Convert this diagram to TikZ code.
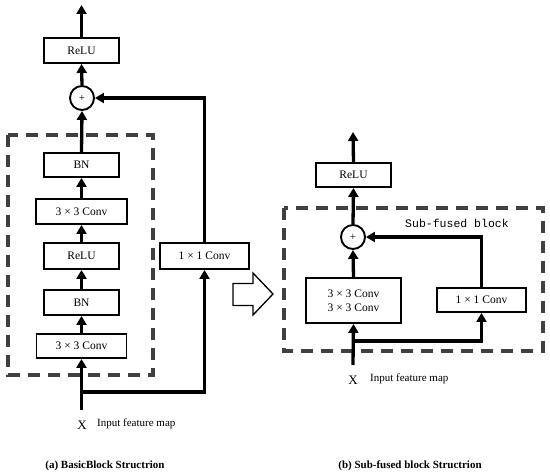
\documentclass[tikz,border=0pt]{standalone}
\usepackage{fontspec}
\setmainfont{Liberation Serif}
\newfontfamily\monof{Liberation Mono}
\usetikzlibrary{arrows.meta}
\begin{document}
\begin{tikzpicture}[x=1pt,y=-1pt,
  blk/.style={draw,line width=1.9pt,fill=white,inner sep=0pt,font=\fontsize{11.5}{13.5}\selectfont,align=center},
  sumnode/.style={draw,circle,line width=1.9pt,minimum size=24pt,inner sep=0pt,font=\fontsize{11}{12}\selectfont},
  conn/.style={line width=3.3pt},
  arr/.style={conn,-{Triangle[length=9pt,width=10pt]}},
  dbox/.style={draw=black!75,line width=3.4pt,dash pattern=on 12pt off 8pt},
  lbl/.style={font=\fontsize{11}{13}\selectfont,inner sep=0pt},
  captxt/.style={font=\fontsize{11}{13}\selectfont\bfseries,inner sep=0pt}]
\useasboundingbox (0,0) rectangle (550,476);
% ---------- (a) ----------
\draw[dbox] (8,135) rectangle (153,375);
\node[blk,minimum width=75pt,minimum height=25pt] (reluA) at (81.5,50.5) {ReLU};
\node[sumnode] (plusA) at (82,98) {+};
\node[blk,minimum width=75pt,minimum height=24pt] (bnA2) at (81.5,165) {BN};
\node[blk,minimum width=91pt,minimum height=25pt] (convA2) at (81.5,211.5) {3 × 3 Conv};
\node[blk,minimum width=75pt,minimum height=26pt] (reluA1) at (81.5,256) {ReLU};
\node[blk,minimum width=75pt,minimum height=25pt] (bnA1) at (81.5,302.5) {BN};
\node[blk,minimum width=90pt,minimum height=24pt] (convA1) at (81.5,346) {3 × 3 Conv};
\node[blk,minimum width=89pt,minimum height=26pt] (conv1A) at (204.5,256) {1 × 1 Conv};
\coordinate (outA) at (81.5,5);
\coordinate (inA) at (81.5,410);
\coordinate (brA) at (81.5,392);
\draw[arr] (reluA.north) -- (outA);
\draw[arr] (plusA.north) -- (reluA.south);
\draw[arr] (bnA2.north) -- (plusA.south);
\draw[arr] (convA2.north) -- (bnA2.south);
\draw[arr] (reluA1.north) -- (convA2.south);
\draw[arr] (bnA1.north) -- (reluA1.south);
\draw[arr] (convA1.north) -- (bnA1.south);
\draw[arr] (inA) -- (convA1.south);
\draw[arr] (brA) -| (conv1A.south);
\draw[arr] (conv1A.north) |- (plusA.east);
\node[font=\fontsize{13}{15}\selectfont,inner sep=0pt] (xA) at (82,425) {X};
\node[lbl,anchor=west] (inlblA) at (97,424) {Input feature map};
\node[captxt] (capA) at (105,466) {(a) BasicBlock Structrion};
% ---------- hollow arrow ----------
\draw[line width=1.3pt,fill=white] (233,283.5) -- (253,283.5) -- (253,273) -- (273,294) -- (253,315) -- (253,305.5) -- (233,305.5) -- cycle;
% ---------- (b) ----------
\draw[dbox] (284,208) rectangle (543,351);
\node[lbl,font=\fontsize{11.5}{13}\selectfont\monof] (sublbl) at (457,223) {Sub-fused block};
\node[blk,minimum width=75pt,minimum height=24pt] (reluB) at (353.5,175) {ReLU};
\node[sumnode] (plusB) at (353,237) {+};
\node[blk,minimum width=95pt,minimum height=45pt] (convB) at (353.5,300.5) {3 × 3 Conv\\3 × 3 Conv};
\node[blk,minimum width=89pt,minimum height=24pt] (conv1B) at (481.5,300) {1 × 1 Conv};
\coordinate (outB) at (353,132);
\coordinate (inB) at (353,365);
\coordinate (brB) at (353,341);
\draw[arr] (reluB.north) -- (outB);
\draw[arr] (plusB.north) -- (reluB.south);
\draw[arr] (convB.north) -- (plusB.south);
\draw[arr] (inB) -- (convB.south);
\draw[arr] (brB) -| (conv1B.south);
\draw[arr] (conv1B.north) |- (plusB.east);
\node[font=\fontsize{13}{15}\selectfont,inner sep=0pt] (xB) at (353,380) {X};
\node[lbl,anchor=west] (inlblB) at (370,379) {Input feature map};
\node[captxt] (capB) at (410,466) {(b) Sub-fused block Structrion};
\end{tikzpicture}
\end{document}
